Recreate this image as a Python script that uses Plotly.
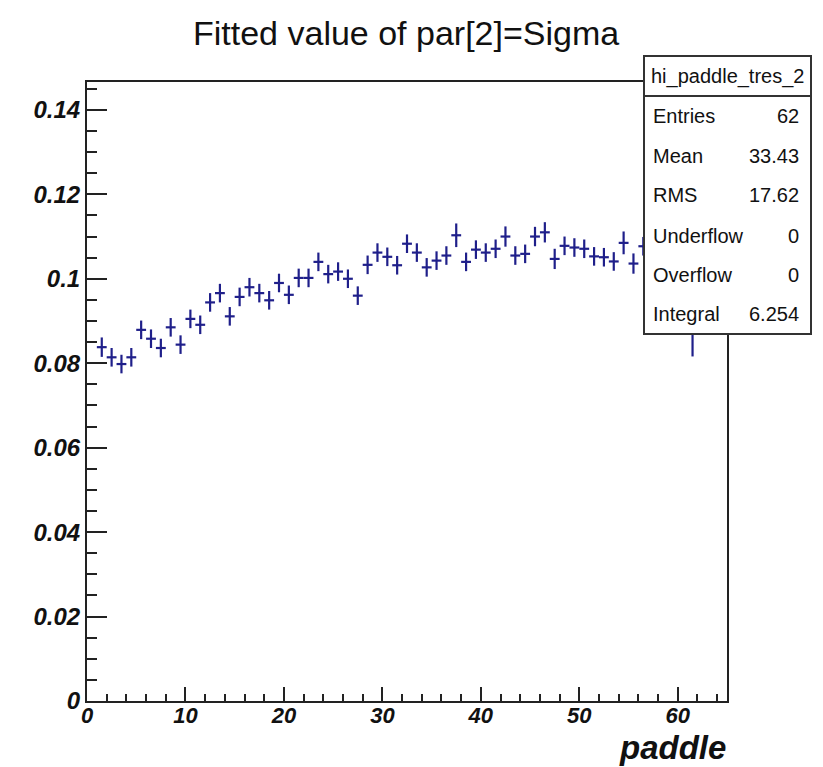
import plotly.graph_objects as go

# ---------------- data ----------------
paddle = [1.5, 2.5, 3.5, 4.5, 5.5, 6.5, 7.5, 8.5, 9.5, 10.5,
          11.5, 12.5, 13.5, 14.5, 15.5, 16.5, 17.5, 18.5, 19.5, 20.5,
          21.5, 22.5, 23.5, 24.5, 25.5, 26.5, 27.5, 28.5, 29.5, 30.5,
          31.5, 32.5, 33.5, 34.5, 35.5, 36.5, 37.5, 38.5, 39.5, 40.5,
          41.5, 42.5, 43.5, 44.5, 45.5, 46.5, 47.5, 48.5, 49.5, 50.5,
          51.5, 52.5, 53.5, 54.5, 55.5, 56.5, 57.5, 58.5, 59.5, 60.5,
          61.5]
sigma = [0.0838, 0.0814, 0.0798, 0.0814, 0.0879, 0.0858, 0.0836, 0.0885, 0.0844, 0.0905,
         0.0891, 0.0944, 0.0966, 0.0911, 0.0957, 0.0980, 0.0966, 0.0949, 0.0990, 0.0962,
         0.1002, 0.1002, 0.1040, 0.1011, 0.1017, 0.1000, 0.0960, 0.1033, 0.1062, 0.1052,
         0.1032, 0.1083, 0.1062, 0.1027, 0.1043, 0.1055, 0.1103, 0.1040, 0.1069, 0.1062,
         0.1071, 0.1100, 0.1055, 0.1059, 0.1100, 0.1110, 0.1047, 0.1078, 0.1074, 0.1071,
         0.1053, 0.1051, 0.1041, 0.1085, 0.1036, 0.1077, 0.1060, 0.1050, 0.1065, 0.1045,
         0.1000]
sigma_err = [0.0023, 0.0022, 0.0022, 0.0022, 0.0022, 0.0022, 0.0022, 0.0022, 0.0022, 0.0022,
             0.0022, 0.0022, 0.0022, 0.0022, 0.0022, 0.0022, 0.0022, 0.0022, 0.0022, 0.0022,
             0.0022, 0.0022, 0.0022, 0.0022, 0.0022, 0.0022, 0.0022, 0.0022, 0.0022, 0.0022,
             0.0022, 0.0022, 0.0022, 0.0022, 0.0022, 0.0022, 0.0028, 0.0022, 0.0022, 0.0022,
             0.0022, 0.0024, 0.0022, 0.0022, 0.0023, 0.0024, 0.0024, 0.0022, 0.0022, 0.0022,
             0.0022, 0.0022, 0.0022, 0.0027, 0.0024, 0.0022, 0.0022, 0.0022, 0.0022, 0.0022,
             0.0184]
bin_half_width = [0.5] * len(paddle)

stat_names = ["Entries", "Mean", "RMS", "Underflow", "Overflow", "Integral"]
stat_values = ["62", "33.43", "17.62", "0", "0", "6.254"]
hist_name = "hi_paddle_tres_2"
title_text = "Fitted value of par[2]=Sigma"
x_title = "paddle"

# ---------------- layout geometry ----------------
W, H = 823, 767
L, R, T, B = 87, 727, 82, 701   # plot frame in pixels


def px(x):
    return (x - L) / (R - L)


def py(y):
    return (B - y) / (B - T)


MARK = "#1f1f8a"
FONT = "Liberation Sans, Arial, Helvetica, sans-serif"

fig = go.Figure()
fig.add_trace(go.Scatter(
    x=paddle, y=sigma, mode="markers",
    marker=dict(size=1, color=MARK, opacity=0),
    error_y=dict(type="data", array=sigma_err, color=MARK, thickness=2.2, width=0),
    error_x=dict(type="data", array=bin_half_width, color=MARK, thickness=2.2, width=0),
    showlegend=False, hoverinfo="x+y",
))

shapes = []
annotations = []

# stats box
bx0, bx1, by0, by1 = 644, 811, 56, 334
shapes.append(dict(type="rect", xref="paper", yref="paper",
                   x0=px(bx0), x1=px(bx1), y0=py(by1), y1=py(by0),
                   line=dict(color="#333333", width=2), fillcolor="white", layer="above"))
shapes.append(dict(type="line", xref="paper", yref="paper",
                   x0=px(bx0), x1=px(bx1), y0=py(96), y1=py(96),
                   line=dict(color="#333333", width=2), layer="above"))
annotations.append(dict(xref="paper", yref="paper", x=px((bx0 + bx1) / 2), y=py(76),
                        text=hist_name, showarrow=False, xanchor="center", yanchor="middle",
                        font=dict(family=FONT, size=20, color="#111111")))
row_y = [116, 156, 195, 236, 275, 314]
for name, val, yy in zip(stat_names, stat_values, row_y):
    annotations.append(dict(xref="paper", yref="paper", x=px(651), y=py(yy),
                            text=name, showarrow=False, xanchor="left", yanchor="middle",
                            font=dict(family=FONT, size=20, color="#111111")))
    annotations.append(dict(xref="paper", yref="paper", x=px(801), y=py(yy),
                            text=val, showarrow=False, xanchor="right", yanchor="middle",
                            font=dict(family=FONT, size=20, color="#111111")))

# title
annotations.append(dict(xref="paper", yref="paper", x=px(406), y=py(33),
                        text=title_text, showarrow=False, xanchor="center", yanchor="middle",
                        font=dict(family=FONT, size=34, color="#111111")))
# x axis title
annotations.append(dict(xref="paper", yref="paper", x=px(728), y=py(747),
                        text=x_title, showarrow=False, xanchor="right", yanchor="middle",
                        font=dict(family=FONT, size=33, color="#111111", weight="bold", style="italic")))

fig.update_layout(
    width=W, height=H,
    margin=dict(l=L, r=W - R, t=T, b=H - B, pad=0),
    paper_bgcolor="white", plot_bgcolor="white",
    shapes=shapes, annotations=annotations,
    xaxis=dict(range=[0, 65], showgrid=False, zeroline=False,
               showline=True, mirror=True, linecolor="#222222", linewidth=2,
               ticks="inside", ticklen=14, tickwidth=2, tickcolor="#222222",
               dtick=10, tick0=0, ticklabelstandoff=-6,
               minor=dict(ticks="inside", ticklen=7, tickwidth=2, tickcolor="#222222", dtick=2),
               tickfont=dict(family=FONT, size=22, color="#111111", weight="bold", style="italic")),
    yaxis=dict(range=[0, 0.1466], showgrid=False, zeroline=False,
               showline=True, mirror=True, linecolor="#222222", linewidth=2,
               ticks="inside", ticklen=20, tickwidth=2, tickcolor="#222222",
               dtick=0.02, tick0=0,
               minor=dict(ticks="inside", ticklen=10, tickwidth=2, tickcolor="#222222", dtick=0.005),
               tickfont=dict(family=FONT, size=24, color="#111111", weight="bold", style="italic")),
)

fig.write_html("out.html")
